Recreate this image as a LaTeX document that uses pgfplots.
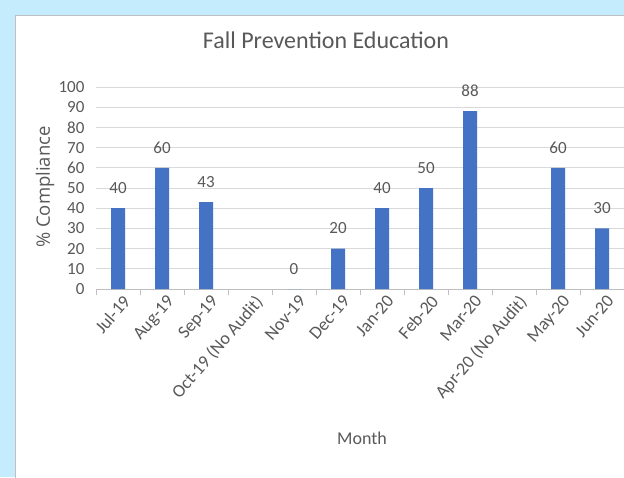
\documentclass[border=0pt]{standalone}
\usepackage{pgfplots}
\pgfplotsset{compat=1.18}
\usepackage{fontspec}
\setmainfont{Carlito}
\newfontfamily\labelfont{Open Sans}

\definecolor{bgblue}{RGB}{196,236,252}
\definecolor{barblue}{RGB}{68,114,196}
\definecolor{txtgrey}{RGB}{89,89,89}
\definecolor{gridgrey}{RGB}{217,217,217}
\definecolor{axgrey}{RGB}{191,191,191}

\begin{document}
\begin{tikzpicture}
    % backdrop: blue slide with the white chart panel
    \path[use as bounding box, fill=bgblue] (0,0) rectangle (624pt,477pt);
    \filldraw[fill=white, draw=axgrey] (15pt,-2pt) rectangle (626pt,462pt);

    \begin{axis}[
        at = {(96pt,188pt)},
        anchor = south west,
        scale only axis,
        width = 528pt,
        height = 202pt,
        ybar,
        bar width = 14pt,
        xmin = -0.5, xmax = 11.5,
        ymin = 0, ymax = 100,
        ytick = {0,10,...,100},
        xtick = {0,...,11},
        xticklabels = {Jul-19, Aug-19, Sep-19, Oct-19 (No Audit), Nov-19, Dec-19,
                       Jan-20, Feb-20, Mar-20, Apr-20 (No Audit), May-20, Jun-20},
        minor xtick = {-0.5,0.5,...,11.5},
        major tick length = 0pt,
        minor tick length = 6pt,
        tick align = outside,
        minor tick style = {axgrey},
        ymajorgrids,
        grid style = {gridgrey, line width=0.8pt},
        axis x line* = bottom,
        axis y line* = left,
        x axis line style = {axgrey, line width=0.8pt, -},
        y axis line style = {draw=none},
        ytick style = {draw=none},
        /pgf/number format/assume math mode = true,
        tick label style = {font=\fontsize{17}{20}\selectfont, text=txtgrey},
        x tick label style = {font=\fontsize{18}{20}\selectfont, rotate=49, anchor=north east, inner sep=1pt, yshift=-5pt},
        y tick label style = {xshift=-8pt},
        title = {Fall Prevention Education},
        title style = {font=\fontsize{24}{28}\selectfont, text=txtgrey, at={(230pt,243pt)}, anchor=center},
        nodes near coords,
        every node near coord/.append style = {font=\fontsize{17}{20}\selectfont, text=txtgrey, anchor=south, yshift=11pt},
        clip = false,
    ]
    \addplot[fill=barblue, draw=none] coordinates {
        (0,40) (1,60) (2,43) (4,0) (5,20) (6,40) (7,50) (8,88) (10,60) (11,30)
    };
    \end{axis}

    \node[font=\labelfont\fontsize{18.5}{20}\selectfont, text=txtgrey, rotate=90] at (45pt,290pt) {\% Compliance};
    \node[font=\fontsize{18}{20}\selectfont, text=txtgrey] at (362pt,39pt) {Month};
\end{tikzpicture}
\end{document}
